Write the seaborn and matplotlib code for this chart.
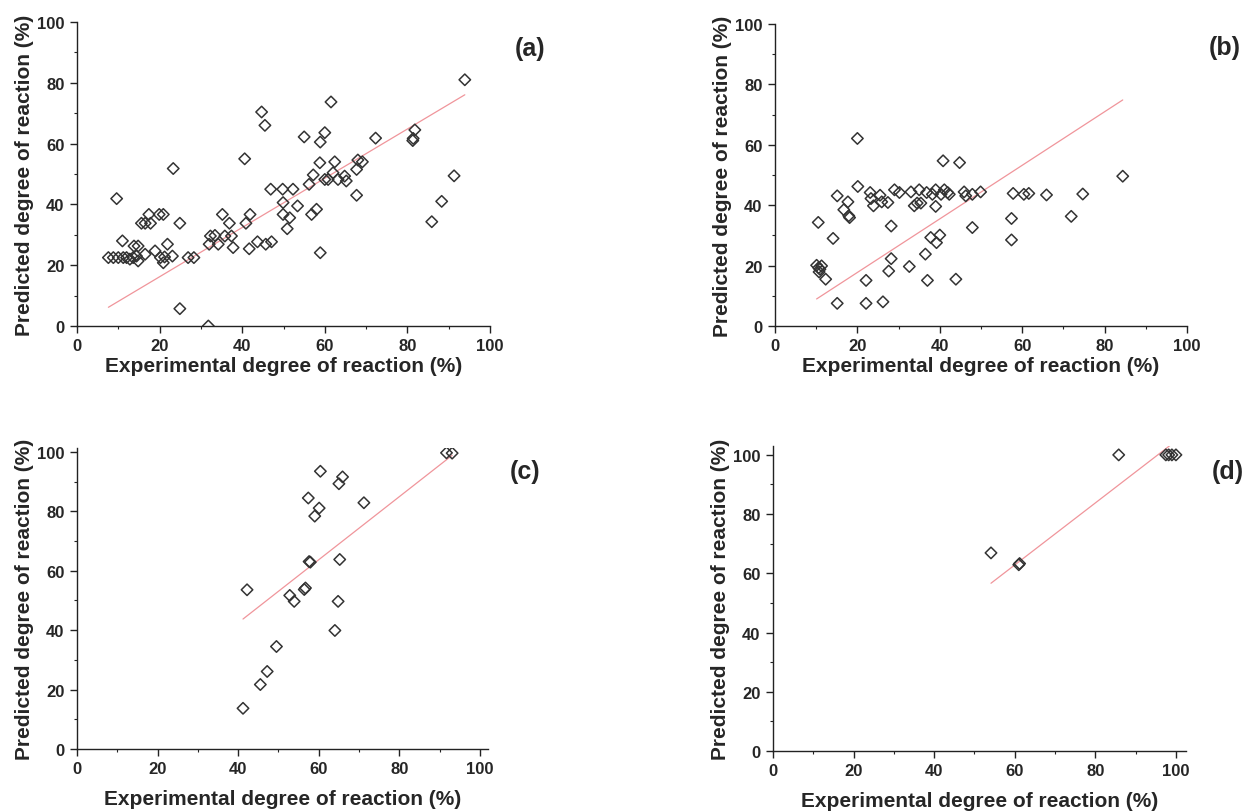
import numpy as np
import pandas as pd
import matplotlib
matplotlib.use("Agg")
import matplotlib.pyplot as plt
import seaborn as sns
from matplotlib.ticker import MultipleLocator

# ---------------- data ----------------
a_x = [7.6, 8.8, 9.6, 10.0, 11.0, 11.2, 12.0, 12.8, 13.6, 13.8, 14.8, 14.8, 14.4, 15.6, 16.5,
       16.5, 17.4, 17.8, 18.9, 19.9, 20.9, 20.2, 20.9, 21.2, 21.9, 23.1, 23.3, 24.9, 24.9, 26.9,
       28.3, 31.8, 32.0, 32.3, 33.4, 34.2, 35.2, 35.8, 36.9, 37.4, 37.8, 40.6, 40.9, 41.9, 41.7,
       43.7, 44.7, 45.5, 45.7, 47.1, 46.9, 49.8, 49.9, 49.9, 50.9, 51.5, 52.3, 53.4, 55.0, 56.2,
       57.2, 56.8, 58.0, 58.8, 58.9, 58.9, 60.0, 60.0, 60.8, 61.5, 62.4, 62.0, 63.2, 64.8, 65.2,
       67.7, 67.7, 68.0, 69.1, 72.3, 81.3, 81.4, 81.8, 85.9, 88.3, 91.3, 93.9]
a_y = [22.5, 22.5, 41.9, 22.5, 28.0, 22.5, 22.5, 22.0, 22.5, 26.3, 26.3, 21.4, 23.0, 33.8, 23.6,
       33.8, 36.7, 33.8, 24.7, 36.7, 36.7, 22.5, 20.8, 22.7, 26.9, 23.0, 51.8, 33.8, 5.7, 22.5,
       22.5, 0.0, 26.9, 29.6, 29.8, 26.9, 36.7, 29.6, 33.8, 29.6, 25.8, 55.0, 33.8, 36.7, 25.4,
       27.7, 70.4, 66.0, 26.9, 27.7, 45.0, 45.0, 40.6, 36.7, 32.0, 35.6, 45.0, 39.5, 62.2, 46.6,
       49.7, 36.7, 38.4, 53.7, 60.5, 24.1, 63.6, 48.2, 48.2, 73.7, 54.0, 50.4, 48.2, 49.3, 47.7,
       51.5, 43.0, 54.6, 54.0, 61.8, 61.0, 61.7, 64.5, 34.3, 41.0, 49.4, 81.0]

b_x = [10.5, 10.1, 10.6, 10.9, 11.3, 10.7, 12.3, 14.1, 15.1, 15.1, 16.7, 17.7, 17.9, 18.1, 20.0,
       20.1, 22.1, 22.1, 23.1, 23.3, 23.9, 25.5, 26.2, 25.9, 27.4, 28.2, 28.2, 27.6, 29.0, 30.2,
       32.6, 33.0, 33.8, 34.5, 35.0, 35.4, 36.8, 36.5, 37.0, 37.8, 38.2, 39.0, 39.0, 39.2, 40.0,
       40.3, 40.8, 41.1, 41.9, 42.3, 43.9, 44.8, 45.9, 46.3, 47.9, 47.9, 49.9, 57.4, 57.4, 57.8,
       60.4, 61.6, 65.9, 71.9, 74.7, 84.4]
b_y = [34.3, 20.1, 19.3, 18.8, 19.9, 17.9, 15.5, 29.0, 43.1, 7.5, 38.5, 41.1, 36.5, 35.9, 62.1,
       46.2, 15.1, 7.5, 44.2, 42.2, 39.8, 43.3, 8.0, 41.1, 40.9, 33.1, 22.3, 18.2, 45.1, 44.2,
       19.7, 44.4, 39.8, 40.7, 45.1, 40.7, 44.2, 23.8, 15.1, 29.3, 43.6, 45.1, 39.6, 27.6, 30.1,
       43.6, 54.7, 45.1, 44.2, 43.6, 15.5, 54.1, 44.4, 43.1, 43.6, 32.6, 44.4, 35.6, 28.5, 43.9,
       43.6, 43.9, 43.4, 36.3, 43.7, 49.6]

c_x = [41.2, 42.2, 45.5, 47.2, 49.5, 52.8, 53.9, 56.4, 56.7, 57.4, 57.6, 57.9, 59.0, 60.1, 60.4,
       64.0, 64.8, 65.2, 65.0, 65.9, 71.2, 91.7, 93.1]
c_y = [13.7, 53.6, 21.7, 26.1, 34.5, 51.7, 49.7, 53.7, 54.2, 84.5, 63.1, 62.9, 78.4, 81.1, 93.5,
       39.9, 49.7, 63.8, 89.3, 91.6, 82.9, 99.7, 99.6]

d_x = [54.1, 61.0, 61.2, 85.8, 97.5, 98.2, 99.0, 100.0]
d_y = [66.9, 62.9, 63.3, 100.0, 100.0, 100.0, 100.0, 100.0]

panel_tags = ["(a)", "(b)", "(c)", "(d)"]
x_label = "Experimental degree of reaction (%)"
y_label = "Predicted degree of reaction (%)"
major_ticks = [0, 20, 40, 60, 80, 100]

# ---------------- style ----------------
sns.set_theme(style="ticks")
plt.rcParams['font.family'] = ['Liberation Sans', 'DejaVu Sans']
plt.rcParams['font.weight'] = 'bold'
plt.rcParams['axes.linewidth'] = 1.0

W, H = 1245, 812
fig = plt.figure(figsize=(W / 100, H / 100), dpi=100)


def rect(left, right, top, bottom):
    return [left / W, 1 - bottom / H, (right - left) / W, (bottom - top) / H]


panels = [
    dict(x=a_x, y=a_y, rect=rect(77, 490, 23, 327), xlim=100, ylim=100,
         tag_xy=(530, 49), xlab_off=40, ylab_off=52),
    dict(x=b_x, y=b_y, rect=rect(775, 1187, 25, 327), xlim=100, ylim=100,
         tag_xy=(1225, 48), xlab_off=40, ylab_off=53),
    dict(x=c_x, y=c_y, rect=rect(77, 488, 448.5, 750), xlim=102, ylim=101.5,
         tag_xy=(525, 472), xlab_off=50, ylab_off=52),
    dict(x=d_x, y=d_y, rect=rect(773, 1186, 447, 752), xlim=102.5, ylim=103,
         tag_xy=(1228, 472), xlab_off=50, ylab_off=53),
]

for tag, p in zip(panel_tags, panels):
    ax = fig.add_axes(p["rect"])
    df = pd.DataFrame({"exp": p["x"], "pred": p["y"]})
    # fit through the origin, drawn over the range of the data
    xv = df["exp"].to_numpy()
    yv = df["pred"].to_numpy()
    k = float(np.sum(xv * yv) / np.sum(xv * xv))
    fit = pd.DataFrame({"exp": [xv.min(), xv.max()]})
    fit["pred"] = k * fit["exp"]
    sns.lineplot(data=fit, x="exp", y="pred", ax=ax, color="#f0959b", lw=0.9, zorder=1)
    sns.scatterplot(data=df, x="exp", y="pred", ax=ax, marker="D", s=34,
                    facecolor="none", edgecolor="#333333", linewidth=1.1, zorder=2)

    ax.set_xlim(0, p["xlim"])
    ax.set_ylim(0, p["ylim"])
    ax.set_xticks(major_ticks)
    ax.set_yticks(major_ticks)
    ax.xaxis.set_minor_locator(MultipleLocator(10))
    ax.yaxis.set_minor_locator(MultipleLocator(10))
    ax.tick_params(which="major", direction="out", length=5, width=1.0,
                   labelsize=12, pad=4, color="#222222")
    ax.tick_params(which="minor", direction="out", length=2.5, width=0.8, color="#222222")
    for lab in ax.get_xticklabels() + ax.get_yticklabels():
        lab.set_fontweight("bold")
    sns.despine(ax=ax)
    ax.spines["left"].set_color("#222222")
    ax.spines["bottom"].set_color("#222222")

    ax.set_xlabel(x_label, fontsize=15, fontweight="bold")
    ax.set_ylabel(y_label, fontsize=15, fontweight="bold")
    l, b, w, h = p["rect"]
    ax.xaxis.set_label_coords(0.5, -p["xlab_off"] / (h * H))
    ax.xaxis.label.set_va("center")
    ax.yaxis.set_label_coords(-p["ylab_off"] / (w * W), 0.5)
    ax.yaxis.label.set_va("center")

    fig.text(p["tag_xy"][0] / W, 1 - p["tag_xy"][1] / H, tag, fontsize=18,
             fontweight="bold", ha="center", va="center")

fig.savefig("out.png", dpi=100, facecolor="white")
